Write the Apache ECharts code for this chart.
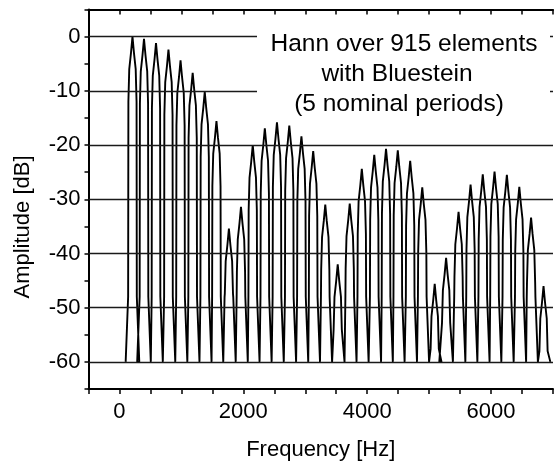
<!DOCTYPE html>
<html>
<head>
<meta charset="utf-8">
<title>Hann over 915 elements</title>
<script src="https://cdn.jsdelivr.net/npm/echarts@6.0.0/dist/echarts.min.js"></script>
<style>
  html, body { margin: 0; padding: 0; background: #fff; }
  #chart { width: 556px; height: 466px; }
</style>
</head>
<body>
<div id="chart"></div>
<script>
// peak of each lobe
const peakHz = [210, 396, 590, 791, 986, 1182, 1377, 1566, 1767, 1962,
  2152, 2347, 2543, 2742, 2938, 3128, 3323, 3524, 3718, 3913,
  4114, 4304, 4494, 4694, 4889, 5090, 5274, 5475, 5669, 5866,
  6056, 6255, 6456, 6646, 6847];
const peakDb = [0, -0.4, -1.2, -2.4, -4.4, -6.7, -10.2, -15.6, -35.4, -31.4,
  -20.0, -16.9, -15.8, -16.4, -18.4, -21.1, -31.0, -42.0, -30.8, -24.4,
  -21.8, -20.7, -21.0, -22.9, -27.8, -45.6, -40.8, -32.3, -27.3, -25.4,
  -24.9, -25.5, -27.7, -33.4, -46.0];

// shape of one lobe as measured on the first one (offset from peak in Hz, drop in dB)
const lobeSideHz = [24, 52, 66];
const lobeSideDrop = [-3, -6, -12];
const lobeKnee = [70, -48];   // sides bend in toward the null here
const lobeFootHz = 110;       // where the side reaches the floor
const floorDb = -60;

// axis ticks
const yGridDb = [0, -10, -20, -30, -40, -50, -60];

// build the curve
const curve = [];
peakHz.forEach((f, i) => {
  const p = peakDb[i];
  const side = [[lobeFootHz, floorDb]];
  if (p + lobeSideDrop[2] > lobeKnee[1]) side.push(lobeKnee);
  for (let j = lobeSideHz.length - 1; j >= 0; j--) {
    side.push([lobeSideHz[j], Math.max(p + lobeSideDrop[j], floorDb)]);
  }
  side.forEach(([o, v]) => curve.push([f - o, v]));
  curve.push([f, p]);
  side.slice().reverse().forEach(([o, v]) => curve.push([f + o, v]));
});

const font = 'Liberation Sans, Arial, sans-serif';
const chart = echarts.init(document.getElementById('chart'), null, { renderer: 'canvas' });

const option = {
  animation: false,
  backgroundColor: '#fff',
  grid: { left: 88.5, right: -5.4, top: 9.5, bottom: 72 },
  xAxis: [
    {
      type: 'value',
      min: -500,
      max: 7000,
      interval: 500,
      name: 'Frequency [Hz]',
      nameLocation: 'middle',
      nameGap: 50,
      nameTextStyle: { color: '#000', fontSize: 22, fontFamily: font },
      axisLine: { show: true, onZero: false, lineStyle: { color: '#000', width: 2 } },
      axisTick: { show: true, length: 5, lineStyle: { color: '#000', width: 1.5 } },
      axisLabel: {
        color: '#000', fontSize: 22, fontFamily: font, margin: 12,
        formatter: v => (v % 2000 === 0 ? String(v) : '')
      },
      splitLine: { show: false }
    },
    {
      type: 'value',
      position: 'top',
      min: -500,
      max: 7000,
      interval: 500,
      axisLine: { show: true, onZero: false, lineStyle: { color: '#000', width: 2 } },
      axisTick: { show: true, inside: true, length: 5, lineStyle: { color: '#000', width: 1.5 } },
      axisLabel: { show: false },
      splitLine: { show: false }
    }
  ],
  yAxis: {
    type: 'value',
    min: -65,
    max: 5,
    interval: 5,
    axisLine: { show: true, onZero: false, lineStyle: { color: '#000', width: 2 } },
    axisTick: { show: true, length: 4, lineStyle: { color: '#000', width: 1.5 } },
    axisLabel: {
      color: '#000', fontSize: 22, fontFamily: font, margin: 8,
      formatter: v => (v % 10 === 0 ? String(v) : '')
    },
    splitLine: { show: false }
  },
  series: [
    {
      type: 'line',
      data: curve,
      symbol: 'none',
      showSymbol: false,
      clip: true,
      lineStyle: { color: '#000', width: 1.9 },
      markLine: {
        silent: true,
        symbol: ['none', 'none'],
        label: { show: false },
        lineStyle: { color: '#1a1a1a', width: 1.4, type: 'solid' },
        data: yGridDb.map(v => ({ yAxis: v }))
      }
    }
  ],
  graphic: [
    {
      type: 'rect',
      z: 100,
      shape: { x: 257, y: 16, width: 293, height: 105 },
      style: { fill: '#fff' }
    },
    {
      type: 'text', z: 101, x: 404, y: 44,
      style: { text: 'Hann over 915 elements', font: '24.5px ' + font, fill: '#000', textAlign: 'center', textVerticalAlign: 'middle' }
    },
    {
      type: 'text', z: 101, x: 397, y: 74,
      style: { text: 'with Bluestein', font: '24.5px ' + font, fill: '#000', textAlign: 'center', textVerticalAlign: 'middle' }
    },
    {
      type: 'text', z: 101, x: 399, y: 104,
      style: { text: '(5 nominal periods)', font: '24.5px ' + font, fill: '#000', textAlign: 'center', textVerticalAlign: 'middle' }
    },
    {
      type: 'text', z: 101, x: 23, y: 227, rotation: Math.PI / 2,
      style: { text: 'Amplitude [dB]', font: '22px ' + font, fill: '#000', textAlign: 'center', textVerticalAlign: 'middle' }
    }
  ]
};

chart.setOption(option);
</script>
</body>
</html>
